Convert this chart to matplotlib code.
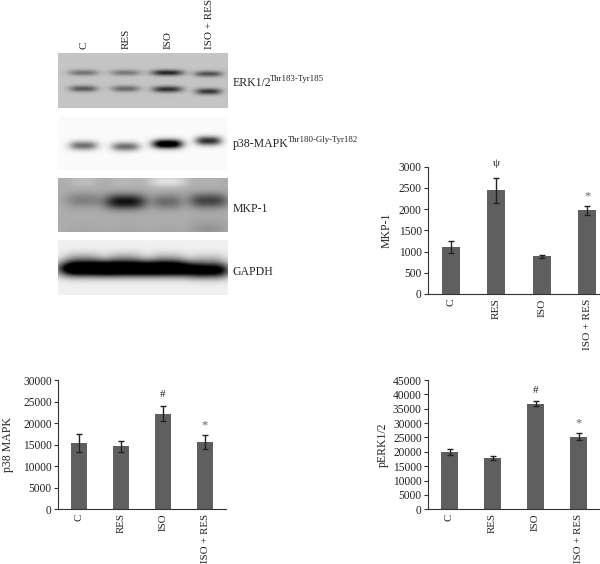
import numpy as np
import matplotlib
matplotlib.use('Agg')
import matplotlib.pyplot as plt

plt.rcParams['font.family'] = ['Liberation Serif', 'DejaVu Serif']

W, H = 600, 564
TEXT = '#222222'
BAR = '#5f5f5f'

categories = ['C', 'RES', 'ISO', 'ISO + RES']

mkp_values = [1110, 2440, 890, 1970]
mkp_errors = [140, 300, 40, 100]
mkp_marks = ['', 'ψ', '', '*']
mkp_ticks = [0, 500, 1000, 1500, 2000, 2500, 3000]

p38_values = [15400, 14600, 22200, 15600]
p38_errors = [2000, 1200, 1800, 1600]
p38_marks = ['', '', '#', '*']
p38_ticks = [0, 5000, 10000, 15000, 20000, 25000, 30000]

erk_values = [20000, 17800, 36800, 25300]
erk_errors = [1100, 800, 800, 1100]
erk_marks = ['', '', '#', '*']
erk_ticks = [0, 5000, 10000, 15000, 20000, 25000, 30000, 35000, 40000, 45000]

# blot bands: y centre (fraction of panel), half width px, half height px, strength per lane
lanes_px = [25, 67, 109, 150]
erk_bands = [
    ([0.35, 0.35, 0.35, 0.37], [15, 15, 16, 14], 3.0, [0.32, 0.30, 0.62, 0.45]),
    ([0.64, 0.64, 0.65, 0.69], [14, 14, 15, 13], 3.2, [0.42, 0.36, 0.58, 0.55]),
]
p38_bands = [
    ([0.53, 0.55, 0.50, 0.44], [14, 14, 15, 13], 4.5, [0.55, 0.55, 1.2, 0.8]),
]
mkp_bands = [
    ([0.40, 0.43, 0.43, 0.41], [18, 21, 15, 20], 7.5, [0.18, 0.62, 0.26, 0.42]),
    ([0.05, 0.05, 0.05, 0.05], [14, 14, 20, 10], 6.0, [-0.06, -0.04, -0.2, -0.02]),
    ([1.00, 1.00, 1.00, 0.95], [20, 20, 20, 18], 10.0, [0.03, 0.03, 0.03, 0.1]),
]
gapdh_bands = [
    ([0.52, 0.52, 0.52, 0.55], [25, 24, 24, 22], 7.5, [1.4, 1.4, 1.4, 1.1]),
    ([0.34, 0.34, 0.34, 0.36], [19, 18, 18, 18], 7.0, [0.22, 0.22, 0.18, 0.16]),
]


def px_axes(left, top, right, bottom):
    return fig.add_axes([left / W, 1 - bottom / H, (right - left) / W, (bottom - top) / H])


def blot(top, bottom, background, bands):
    ax = px_axes(58, top, 228, bottom)
    h = int(bottom - top)
    xx, yy = np.meshgrid(np.arange(170), np.arange(h))
    img = np.full(xx.shape, background, dtype=float)
    for ys, widths, thick, strengths in bands:
        for lane, y, w, s in zip(lanes_px, ys, widths, strengths):
            img -= s * np.exp(-(np.abs(xx - lane) / w) ** 3) * np.exp(-((yy - y * h) / thick) ** 2)
    ax.imshow(np.clip(img, 0, 1), cmap='gray', vmin=0, vmax=1, aspect='auto', interpolation='bilinear')
    ax.axis('off')


def bars(rect, values, errors, marks, ticks, ylabel, label_x, mark_gaps, xsize):
    ax = px_axes(*rect)
    x = np.arange(len(values))
    ax.bar(x, values, width=0.4, color=BAR)
    ax.errorbar(x, values, yerr=errors, fmt='none', ecolor='#222222', elinewidth=1.0, capsize=2.5, capthick=1.0)
    ax.set_xlim(-0.5, 3.5)
    ax.set_ylim(ticks[0], ticks[-1])
    ax.set_yticks(ticks)
    ax.set_xticks(x)
    ax.set_xticklabels(categories, rotation=90)
    ax.tick_params(axis='x', length=0, pad=3, labelsize=xsize, labelcolor=TEXT)
    ax.tick_params(axis='y', length=3, width=0.8, pad=1.5, labelsize=8.3, labelcolor=TEXT, color='#333333')
    for s in ['top', 'right']:
        ax.spines[s].set_visible(False)
    for s in ['left', 'bottom']:
        ax.spines[s].set_linewidth(0.8)
        ax.spines[s].set_color('#333333')
    for i, m in enumerate(marks):
        if m:
            ax.annotate(m, (i, values[i] + errors[i]), xytext=(0, mark_gaps[i]), textcoords='offset points',
                        ha='center', va='center', fontsize=9 if m == '*' else 8,
                        color='#666666' if m == '*' else TEXT, annotation_clip=False)
    fig.text(label_x / W, 1 - (rect[1] + rect[3]) / 2 / H, ylabel, rotation=90, ha='center', va='center',
             fontsize=8.5, color=TEXT)


def px_text(x, y, s, **kw):
    kw.setdefault('color', TEXT)
    fig.text(x / W, 1 - y / H, s, **kw)


fig = plt.figure(figsize=(W / 100, H / 100), dpi=100)

blot(53, 108, 0.77, erk_bands)
blot(117, 170, 0.98, p38_bands)
blot(178, 232, 0.68, mkp_bands)
blot(240, 295, 0.94, gapdh_bands)

for x, name in zip([84, 126, 168, 209], categories):
    px_text(x, 49, name, rotation=90, ha='center', va='bottom', fontsize=8)

px_text(233, 86, 'ERK1/2', fontsize=8.5, va='baseline')
px_text(270, 81, 'Thr183-Tyr185', fontsize=6.3, va='baseline')
px_text(233, 147, 'p38-MAPK', fontsize=8.5, va='baseline')
px_text(288, 142, 'Thr180-Gly-Tyr182', fontsize=6.3, va='baseline')
px_text(233, 212, 'MKP-1', fontsize=8.5, va='baseline')
px_text(233, 275, 'GAPDH', fontsize=8.5, va='baseline')

bars((428, 166.7, 610, 294), mkp_values, mkp_errors, mkp_marks, mkp_ticks, 'MKP-1', 387, [0, 10, 0, 7], 8.2)
bars((58, 380, 226, 509.3), p38_values, p38_errors, p38_marks, p38_ticks, 'p38 MAPK', 8, [0, 0, 8, 7], 7.8)
bars((428, 380, 600, 509.3), erk_values, erk_errors, erk_marks, erk_ticks, 'pERK1/2', 383, [0, 0, 8, 7], 7.8)

fig.savefig('out.png', dpi=100)
